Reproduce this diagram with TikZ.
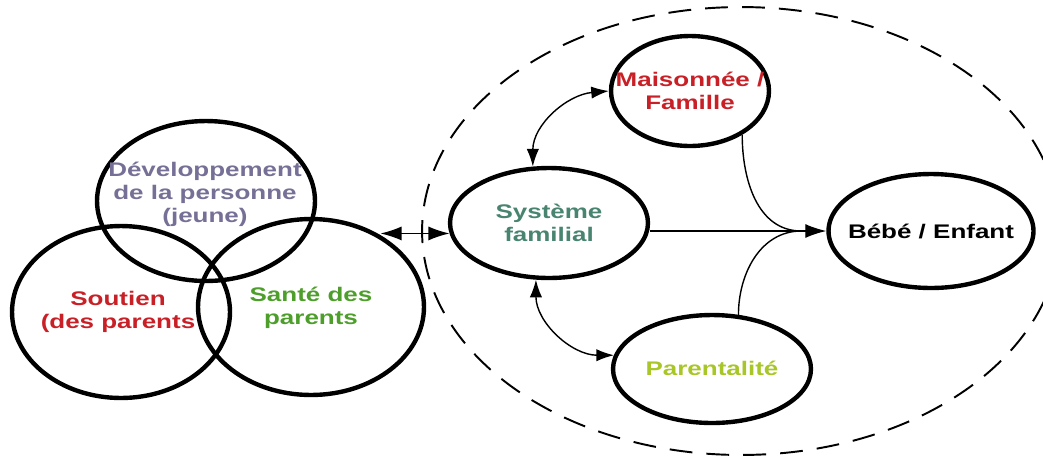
\documentclass[tikz,border=0pt]{standalone}
\usepackage{fontspec}
\setmainfont{Liberation Sans}[FakeStretch=1.32]
\usepackage{tikz}
\usetikzlibrary{calc}
\usetikzlibrary{positioning}
\usetikzlibrary{shapes.geometric}
\usetikzlibrary{arrows.meta}
\definecolor{devcol}{RGB}{118,112,150}
\definecolor{redcol}{RGB}{200,32,38}
\definecolor{santecol}{RGB}{78,158,44}
\definecolor{syscol}{RGB}{72,132,112}
\definecolor{parcol}{RGB}{168,198,40}
\tikzstyle{ring} = [draw, ellipse, line width=2.5pt, inner sep=0pt]
\tikzstyle{lbl} = [align=center, inner sep=0pt, font=\bfseries\fontsize{11.2}{13}\selectfont]
\tikzstyle{zone} = [draw, ellipse, line width=1.1pt, dash pattern=on 13pt off 8pt, inner sep=0pt]
\tikzstyle{link} = [line width=0.8pt]
\tikzstyle{bigtips} = [{Latex[length=12pt,width=8pt]}-{Latex[length=12pt,width=8pt]}]
\tikzstyle{smalltips} = [{Latex[length=10pt,width=7pt]}-{Latex[length=10pt,width=7pt]}]

\begin{document}
\begin{tikzpicture}[x=0.02cm, y=-0.02cm]
  \clip (0,0) rectangle (1043,457);

  % three overlapping circles
  \node[ring, minimum width=4.36cm, minimum height=3.2cm] (dev) at (206,201) {};
  \node[ring, minimum width=4.36cm, minimum height=3.44cm] (sou) at (121,312) {};
  \node[ring, minimum width=4.52cm, minimum height=3.52cm] (san) at (311,307) {};
  \node[lbl, text=devcol] (dev-t) at (205,194) {Développement\\de la personne\\(jeune)};
  \node[lbl, text=redcol] (sou-t) at (118,312) {Soutien\\(des parents};
  \node[lbl, text=santecol] (san-t) at (311,308) {Santé des\\parents};

  % dashed family zone
  \node[zone, minimum width=12.76cm, minimum height=8.96cm] (zone) at (741,231) {};

  \node[ring, minimum width=3.96cm, minimum height=2.2cm] (sys) at (549,223) {};
  \node[ring, minimum width=3.16cm, minimum height=2.2cm] (mais) at (690,91) {};
  \node[ring, minimum width=3.96cm, minimum height=2.16cm] (par) at (712,369) {};
  \node[ring, minimum width=4.1cm, minimum height=2.28cm] (bebe) at (931,231) {};
  \node[lbl, text=syscol] (sys-t) at (549,223) {Système\\familial};
  \node[lbl, text=redcol] (mais-t) at (690,91) {Maisonnée /\\Famille};
  \node[lbl, text=parcol] (par-t) at (712,368) {Parentalité};
  \node[lbl] (bebe-t) at (931,231) {Bébé / Enfant};

  \coordinate (join) at ($(bebe.west)+(-25,0)$);

  \draw[link, bigtips] (san.46 |- sys.186) -- (sys.186);
  \draw[link, -{Latex[length=12pt,width=8pt]}] (sys.east |- bebe.west) -- (bebe.west);
  \draw[link] (mais.-40) to[out=-90, in=180] (join);
  \draw[link] (par.64) to[out=90, in=180] (join);
  \draw[link, smalltips] (sys.106) to[out=90, in=185] (mais.west);
  \draw[link, smalltips] (sys.257) to[out=-90, in=180] (par.172);
\end{tikzpicture}
\end{document}
